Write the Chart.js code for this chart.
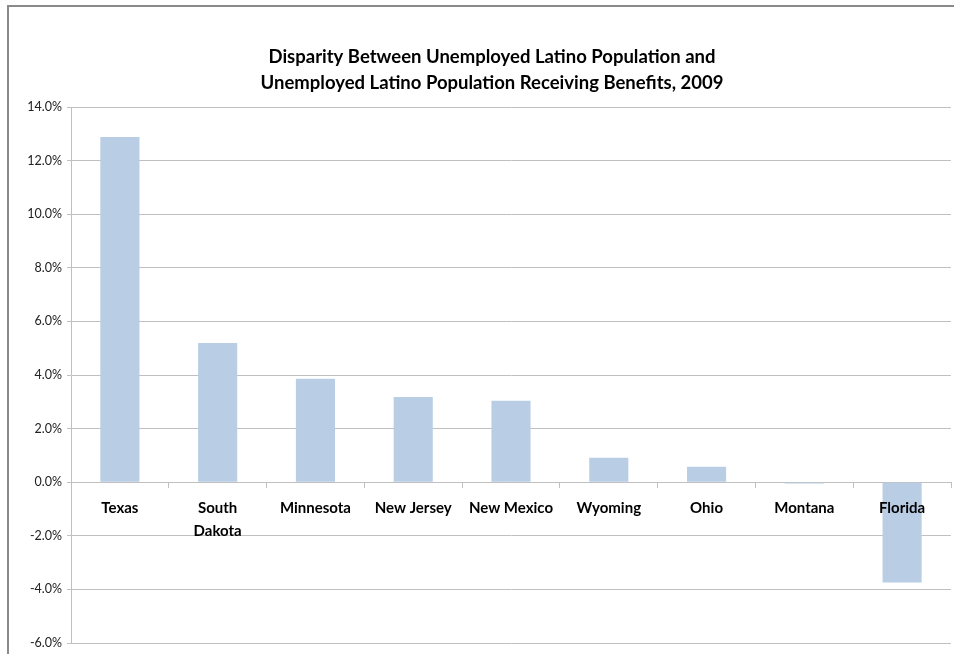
<!DOCTYPE html>
<html>
<head>
<meta charset="utf-8">
<script src="https://cdn.jsdelivr.net/npm/chart.js@4"></script>
<style>
  html, body { margin: 0; padding: 0; background: #fff; overflow: hidden; }
  #frame { position: absolute; left: 7px; top: 5px; width: 1000px; height: 700px;
           border-left: 2px solid #8a8a8a; border-top: 2px solid #8a8a8a; }
  #wrap { position: absolute; left: 0; top: 0; width: 954px; height: 654px; }
</style>
</head>
<body>
<div id="frame"></div>
<div id="wrap"><canvas id="c" width="954" height="654"></canvas></div>
<script>
// States, ordered by disparity (percentage points)
const states = ['Texas', ['South', 'Dakota'], 'Minnesota', 'New Jersey', 'New Mexico', 'Wyoming', 'Ohio', 'Montana', 'Florida'];
const disparity = [12.88, 5.19, 3.86, 3.18, 3.04, 0.91, 0.58, -0.05, -3.74];
const yTicks = { min: -6, max: 14, step: 2 };
const titleLines = ['Disparity Between Unemployed Latino Population and',
                    'Unemployed Latino Population Receiving Benefits, 2009'];

const FONT = 'Lato, "Open Sans", sans-serif';
const GRID = '#c0c0c0';

// Two-line chart title, centred on the whole chart frame (which runs past the canvas edge)
const frameTitle = {
  id: 'frameTitle',
  afterDraw(chart, args, opts) {
    const ctx = chart.ctx;
    ctx.save();
    ctx.fillStyle = '#000';
    ctx.font = 'bold 18.5px ' + FONT;
    ctx.textAlign = 'center';
    ctx.textBaseline = 'middle';
    opts.lines.forEach((line, i) => ctx.fillText(line, opts.centerX, opts.top + i * opts.lineGap));
    ctx.restore();
  }
};

new Chart(document.getElementById('c'), {
  type: 'bar',
  data: {
    labels: states,
    datasets: [{
      data: disparity,
      backgroundColor: '#b9cde5',
      borderWidth: 0,
      barPercentage: 0.4,
      categoryPercentage: 1.0
    }]
  },
  plugins: [frameTitle],
  options: {
    responsive: false,
    animation: false,
    layout: { padding: { left: 0, right: 3, top: 107, bottom: 11 } },
    plugins: {
      legend: { display: false },
      tooltip: { enabled: false },
      title: { display: false },
      frameTitle: { lines: titleLines, centerX: 492, top: 57, lineGap: 26 }
    },
    scales: {
      x: {
        position: { y: 0 },
        grid: { display: true, drawOnChartArea: false, drawTicks: true, tickLength: 5, color: GRID, offset: true },
        border: { display: true, color: GRID, width: 1 },
        ticks: {
          z: 1, // category names sit on top of the bars
          color: '#000',
          padding: 10,
          maxRotation: 0,
          autoSkip: false,
          font: { family: FONT, size: 15, weight: 'bold', lineHeight: 1.5 }
        }
      },
      y: {
        min: yTicks.min,
        max: yTicks.max,
        afterFit: (s) => { s.width = 71; s.paddingTop = 0; s.paddingBottom = 0; },
        grid: { color: GRID, lineWidth: 1, drawTicks: true, tickLength: 4 },
        border: { display: true, color: GRID, width: 1 },
        ticks: {
          stepSize: yTicks.step,
          color: '#222',
          padding: 5,
          font: { family: FONT, size: 12.5 },
          callback: (v) => v.toFixed(1) + '%'
        }
      }
    }
  }
});
</script>
</body>
</html>
